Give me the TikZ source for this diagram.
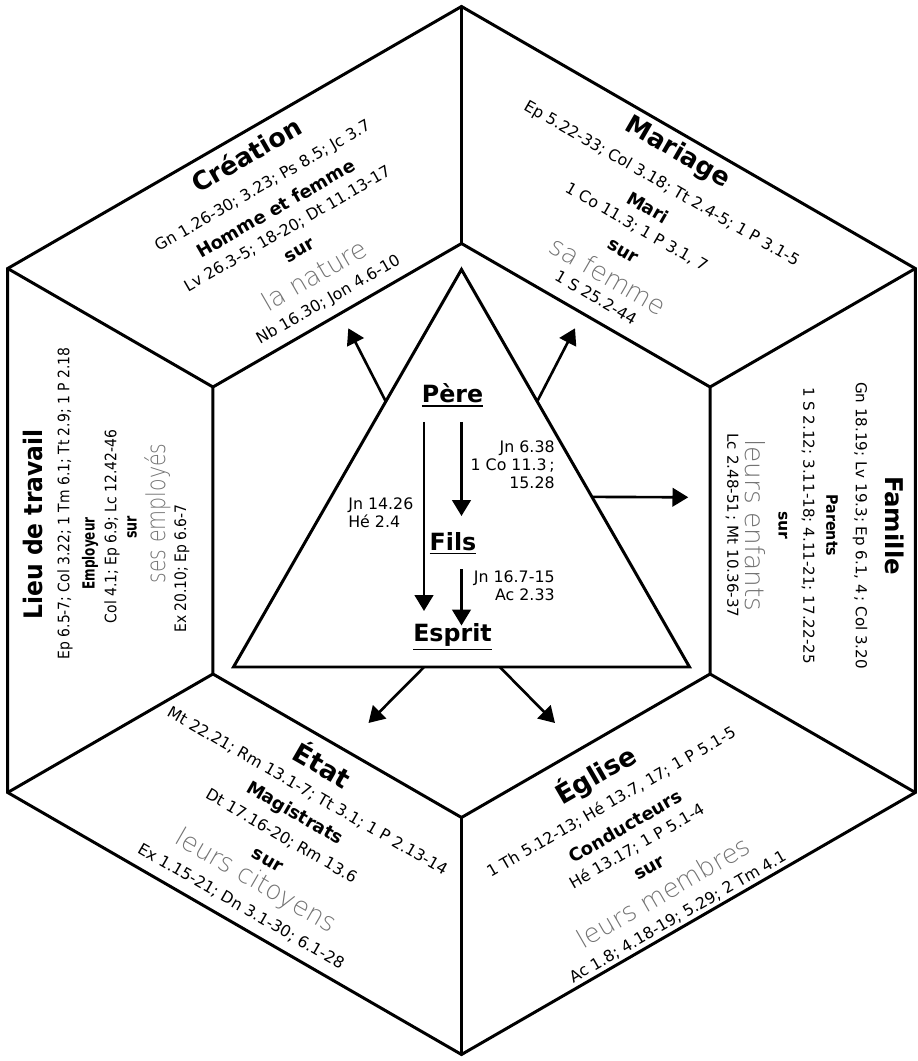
\documentclass[tikz,border=0pt]{standalone}
\usepackage{fontspec}
\setmainfont{DejaVu Sans}
\newfontfamily\leger{DejaVu Sans ExtraLight}
\newcommand\souligne[1]{\vtop{\hbox{#1}\kern1.2pt\hrule height 1.1pt}}
\usetikzlibrary{arrows.meta,calc}
\definecolor{gris}{gray}{0.45}

\begin{document}
\begin{tikzpicture}[x=0.02cm,y=0.02cm]
\tikzset{trait/.style={line width=1.7pt, line join=miter},
  fleche/.style={line width=1.5pt, -{Triangle[length=9pt,width=10.5pt]}},
  titre/.style={font=\bfseries\fontsize{#1}{#1}\selectfont, inner sep=0pt, transform shape},
  titre/.default=14.5,
  ref/.style={font=\fontsize{#1}{#1}\selectfont, inner sep=0pt, transform shape},
  ref/.default=9,
  role/.style={font=\bfseries\fontsize{#1}{#1}\selectfont, inner sep=0pt, transform shape},
  role/.default=10.2,
  objet/.style={font=\leger\fontsize{#1}{#1}\selectfont, text=gris, inner sep=0pt, transform shape},
  objet/.default=14.8,
  personne/.style={font=\bfseries\fontsize{13.5}{15}\selectfont, inner sep=0pt},
  verset/.style={font=\fontsize{9}{10.2}\selectfont, inner sep=0pt}}
\useasboundingbox (-461.5,-530.5) rectangle (455.5,530.5);

% les deux hexagones
\foreach \i in {0,...,5} {
  \coordinate (E\i) at (90+60*\i:524);
  \coordinate (I\i) at (90+60*\i:287);
}
\draw[trait] (E0) -- (E1) -- (E2) -- (E3) -- (E4) -- (E5) -- cycle;
\draw[trait] (I0) -- (I1) -- (I2) -- (I3) -- (I4) -- (I5) -- cycle;
\foreach \i in {0,...,5} \draw[trait] (E\i) -- (I\i);

% le triangle
\coordinate (haut) at (0,261);
\coordinate (gauche) at (-228,-136.5);
\coordinate (droite) at (228,-136.5);
\draw[trait] (haut) -- (gauche) -- (droite) -- cycle;

\node[personne] (pere) at (-9,135.5) {\souligne{Père}};
\node[personne] (fils) at (-8.5,-12.8) {\souligne{Fils}};
\node[personne] (esprit) at (-9,-106.5) {\souligne{Esprit}};
\node[verset, align=right, anchor=east] (vPF) at (93.5,65.5) {Jn 6.38\\1 Co 11.3\,;\\15.28};
\node[verset, align=left, anchor=west] (vPE) at (-113.5,18) {Jn 14.26\\Hé 2.4};
\node[verset, align=right, anchor=east] (vFE) at (93.5,-55.7) {Jn 16.7-15\\Ac 2.33};
\draw[fleche] ($(pere.center)+(-28.5,-27)$) -- ($(esprit.center)+(-28.5,26)$);
\draw[fleche] ($(pere.center)+(9,-27)$) -- ($(fils.center)+(8.5,27.3)$);
\draw[fleche] ($(fils.center)+(8.5,-25.7)$) -- ($(esprit.center)+(9,11.5)$);

% fleches vers les domaines
\coordinate (vCreation) at (-113.2,202.2);
\coordinate (vMariage) at (113.5,202.2);
\coordinate (vFamille) at (226.8,33.2);
\coordinate (vEtat) at (-93,-192.5);
\coordinate (vEglise) at (93.5,-192.5);
\draw[fleche] ($(haut)!0.332!(gauche)$) -- (vCreation);
\draw[fleche] ($(haut)!0.332!(droite)$) -- (vMariage);
\draw[fleche] ($(haut)!0.572!(droite)$) -- (vFamille);
\draw[fleche] ($(gauche)!0.418!(droite)$) -- (vEtat);
\draw[fleche] ($(gauche)!0.584!(droite)$) -- (vEglise);

% Creation
\begin{scope}[rotate=30]
\node[titre] (creation) at (1.7,433) {Création};
\node[ref] (creationA) at (0,397) {Gn 1.26-30; 3.23; Ps 8.5; Jc 3.7};
\node[role] (creationB) at (0,372) {Homme et femme};
\node[ref] (creationC) at (0,348) {Lv 26.3-5; 18-20; Dt 11.13-17};
\node[role] (creationD) at (0,323) {sur};
\node[objet] (creationE) at (0,295) {la nature};
\node[ref] (creationF) at (0,266) {Nb 16.30; Jon 4.6-10};
\end{scope}

% Mariage
\begin{scope}[rotate=-30]
\node[titre] (mariage) at (-2,435) {Mariage};
\node[ref] (mariageA) at (0,400) {Ep 5.22-33; Col 3.18; Tt 2.4-5; 1 P 3.1-5};
\node[role] (mariageB) at (0,373) {Mari};
\node[ref] (mariageC) at (0,350) {1 Co 11.3; 1 P 3.1, 7};
\node[role] (mariageD) at (0,322) {sur};
\node[objet] (mariageE) at (0,294) {sa femme};
\node[ref] (mariageF) at (0,269) {1 S 25.2-44};
\end{scope}

% Famille
\begin{scope}[rotate=-90]
\node[titre=13.9] (famille) at (-5,433.5) {Famille};
\node[ref=8.6] (familleA) at (-5,398.5) {Gn 18.19; Lv 19.3; Ep 6.1, 4\,; Col 3.20};
\node[role=9, xscale=0.9] (familleB) at (-5,370.5) {Parents};
\node[ref=8.6] (familleC) at (-5,346.5) {1 S 2.12; 3.11-18; 4.11-21; 17.22-25};
\node[role=8.9] (familleD) at (-5,321.5) {sur};
\node[objet=15] (familleE) at (-5,293.5) {leurs enfants};
\node[ref=8.6] (familleF) at (-5,270.5) {Lc 2.48-51\,; Mt 10.36-37};
\end{scope}

% Eglise
\begin{scope}[rotate=30]
\node[titre=15] (eglise) at (-6,-279) {Église};
\node[ref] (egliseA) at (-6,-310) {1 Th 5.12-13; Hé 13.7, 17; 1 P 5.1-5};
\node[role] (egliseB) at (-6,-338) {Conducteurs};
\node[ref] (egliseC) at (-6,-361) {Hé 13.17; 1 P 5.1-4};
\node[role] (egliseD) at (-6,-387) {sur};
\node[objet] (egliseE) at (-6,-414) {leurs membres};
\node[ref] (egliseF) at (-6,-443) {Ac 1.8; 4.18-19; 5.29; 2 Tm 4.1};
\end{scope}

% Etat
\begin{scope}[rotate=-30]
\node[titre=15] (etat) at (-3,-271) {État};
\node[ref] (etatA) at (-3,-303) {Mt 22.21; Rm 13.1-7; Tt 3.1; 1 P 2.13-14};
\node[role] (etatB) at (-3,-329) {Magistrats};
\node[ref] (etatC) at (-3,-355) {Dt 17.16-20; Rm 13.6};
\node[role] (etatD) at (-3,-383) {sur};
\node[objet] (etatE) at (-3,-407) {leurs citoyens};
\node[ref] (etatF) at (-3,-436) {Ex 1.15-21; Dn 3.1-30; 6.1-28};
\end{scope}

% Lieu de travail
\begin{scope}[rotate=90]
\node[titre=14.5, xscale=0.92] (travail) at (6,428.5) {Lieu de travail};
\node[ref, xscale=0.88] (travailA) at (27,396.5) {Ep 6.5-7; Col 3.22; 1 Tm 6.1; Tt 2.9; 1 P 2.18};
\node[role=9.5, xscale=0.72] (travailB) at (-23,371.5) {Employeur};
\node[ref, xscale=0.88] (travailC) at (4,349.5) {Col 4.1; Ep 6.9; Lc 12.42-46};
\node[role=9.5, xscale=0.76] (travailD) at (3,329.5) {sur};
\node[objet, xscale=0.79] (travailE) at (17,303.5) {ses employés};
\node[ref, xscale=0.88] (travailF) at (-38,279.5) {Ex 20.10; Ep 6.6-7};
\end{scope}
\end{tikzpicture}
\end{document}
